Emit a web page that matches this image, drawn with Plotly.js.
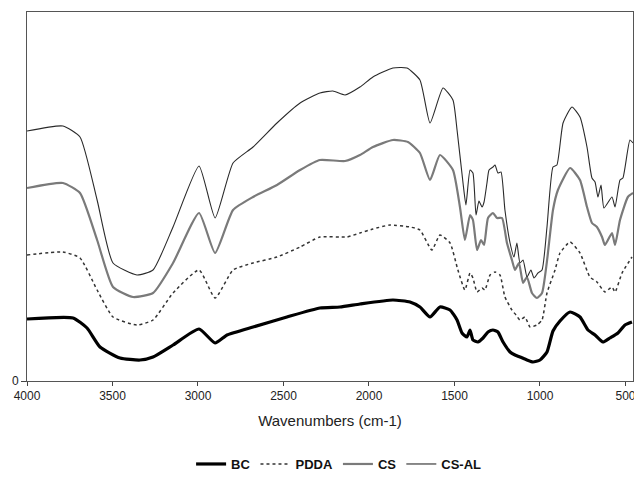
<!DOCTYPE html>
<html><head><meta charset="utf-8">
<script src="https://cdn.plot.ly/plotly-3.0.1.min.js"></script>
<style>html,body{margin:0;padding:0;background:#fff}#chart{width:634px;height:481px}</style>
</head><body><div id="chart"></div>
<script>
const seriesNames = ["BC", "PDDA", "CS", "CS-AL"];
const xTicks = [4000, 3500, 3000, 2500, 2000, 1500, 1000, 500];

const csalWn = [4000,3790,3690,3590,3497,3357,3263,3146,2994,2900,2795,2678,2538,2403,2287,2211,2140,2053,1977,1860,1778,1702,1643,1567,1509,1485,1450,1433,1409,1392,1374,1357,1339,1327,1310,1298,1275,1263,1246,1228,1205,1175,1152,1135,1117,1099,1076,1053,1035,1012,988,959,924,901,865,813,766,725,696,678,661,643,626,579,561,532,515,474,456];
const csalT  = [250,255,244,181,118,106,111,154,215,163,218,234,258,278,288,290,286,294,304,313,313,301,258,293,281,251,198,176,211,208,166,180,174,179,198,211,214,216,208,209,171,138,124,138,118,121,104,111,103,108,111,154,214,216,258,274,264,234,203,199,184,196,173,184,174,201,203,241,238];

const csWn = [4000,3790,3690,3590,3497,3380,3263,3146,2994,2900,2795,2678,2538,2403,2287,2140,2053,1977,1860,1772,1702,1643,1585,1509,1468,1439,1409,1392,1368,1345,1327,1304,1275,1251,1222,1193,1164,1146,1123,1099,1076,1047,1018,988,959,924,895,824,766,725,696,667,637,620,579,561,532,486,456];
const csT  = [193,198,188,141,94,84,88,118,168,128,171,184,196,211,221,220,226,234,241,239,228,201,226,211,174,141,166,161,131,141,136,163,168,163,163,138,121,111,118,98,104,88,83,88,120,171,191,213,201,174,158,154,144,136,148,136,161,184,188];

const pddaWn = [4000,3790,3690,3590,3497,3357,3263,3146,2994,2900,2795,2678,2538,2403,2287,2129,2053,1977,1877,1760,1702,1632,1585,1526,1480,1439,1409,1392,1368,1339,1322,1292,1263,1234,1205,1164,1140,1117,1088,1058,1018,988,959,912,883,824,766,708,667,620,579,561,520,462];
const pddaT  = [126,129,123,91,64,56,61,88,111,83,111,118,124,134,144,144,148,152,156,154,151,131,146,138,111,91,108,103,89,93,91,106,109,106,84,71,66,61,64,54,56,61,88,111,128,139,128,104,99,89,94,89,108,124];

const bcWn = [4000,3731,3649,3573,3456,3339,3263,3146,2994,2900,2830,2678,2480,2287,2170,2053,1860,1760,1702,1643,1585,1526,1485,1456,1427,1409,1392,1363,1333,1304,1275,1246,1216,1175,1146,1117,1076,1041,1000,959,924,883,824,766,719,678,632,591,544,503,462];
const bcT  = [62,63,53,34,23,21,24,36,52,38,46,54,64,73,74,77,81,79,74,64,74,71,61,48,44,51,41,39,43,49,51,49,39,29,26,24,21,19,21,29,50,60,69,64,51,46,39,43,48,56,59];

const traces = [
  {x: bcWn, y: bcT, name: seriesNames[0], line: {color: '#000000', width: 3.2, shape: 'spline', smoothing: 0.5}},
  {x: pddaWn, y: pddaT, name: seriesNames[1], line: {color: '#333333', width: 1.5, dash: 'dot', shape: 'spline', smoothing: 0.5}},
  {x: csWn, y: csT, name: seriesNames[2], line: {color: '#7a7a7a', width: 2.2, shape: 'spline', smoothing: 0.5}},
  {x: csalWn, y: csalT, name: seriesNames[3], line: {color: '#2a2a2a', width: 1.1, shape: 'spline', smoothing: 0.5}}
].map(t => Object.assign({type: 'scatter', mode: 'lines', hoverinfo: 'skip'}, t));

const layout = {
  width: 634, height: 481,
  margin: {l: 27, r: 1, t: 12, b: 100},
  paper_bgcolor: '#ffffff', plot_bgcolor: '#ffffff',
  font: {family: 'Liberation Sans, Arial, sans-serif', color: '#222', size: 12},
  showlegend: true,
  legend: {orientation: 'h', x: 0.515, xanchor: 'center', y: -0.225, yanchor: 'middle',
           font: {size: 13, weight: 'bold', color: '#111'}, traceorder: 'normal', itemgap: 10},
  xaxis: {
    range: [4000, 456], tickvals: xTicks, ticks: 'outside', ticklen: 4, tickcolor: '#444',
    ticklabeloverflow: 'allow',
    showline: true, linecolor: '#555', linewidth: 1, mirror: true, showgrid: false, zeroline: false,
    tickfont: {size: 12, color: '#222'},
    title: {text: 'Wavenumbers (cm-1)', font: {size: 15, color: '#222'}, standoff: 13}
  },
  yaxis: {
    range: [0, 369], tickvals: [0], ticktext: ['0'], ticks: 'outside', ticklen: 5, tickcolor: '#444',
    showline: true, linecolor: '#555', linewidth: 1, mirror: true, showgrid: false, zeroline: false,
    tickfont: {size: 12, color: '#222'}
  }
};

Plotly.newPlot('chart', traces, layout, {staticPlot: true, displayModeBar: false});
</script></body></html>
